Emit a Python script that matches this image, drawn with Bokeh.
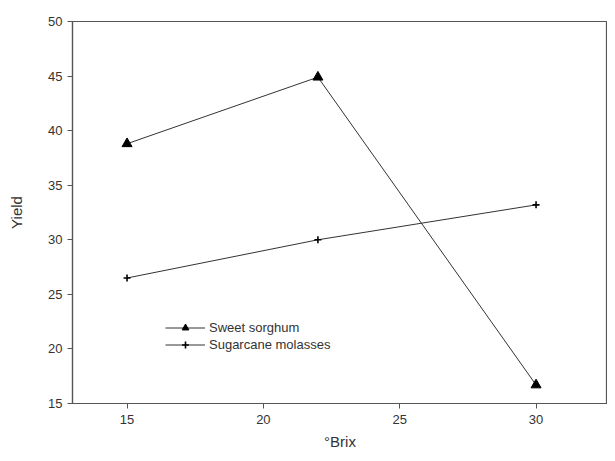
from bokeh.plotting import figure
from bokeh.models import Range1d, FixedTicker
from bokeh.embed import file_html
from bokeh.resources import INLINE

brix = [15, 22, 30]
sweet_sorghum = [38.8, 44.9, 16.7]
sugarcane_molasses = [26.5, 30.0, 33.2]
x_ticks = [15, 20, 25, 30]
y_ticks = [15, 20, 25, 30, 35, 40, 45, 50]

FONT = "Liberation Sans"
AX = "#555555"
TXT = "#333333"

p = figure(width=607, height=453, output_backend="svg", toolbar_location=None,
           x_range=Range1d(13, 32.62), y_range=Range1d(15, 50),
           min_border_left=72, min_border_top=21, min_border_right=0, min_border_bottom=50)
p.grid.visible = False
p.outline_line_color = AX
p.outline_line_width = 1.2
p.background_fill_color = "white"
p.border_fill_color = "white"

for ax in (p.xaxis[0], p.yaxis[0]):
    ax.axis_line_color = AX
    ax.axis_line_width = 1.2
    ax.major_tick_line_color = AX
    ax.major_tick_in = 0
    ax.major_tick_out = 5
    ax.minor_tick_line_color = None
    ax.major_label_text_font = FONT
    ax.major_label_text_font_size = "13px"
    ax.major_label_text_color = TXT
    ax.axis_label_text_font = FONT
    ax.axis_label_text_font_size = "15px"
    ax.axis_label_text_font_style = "normal"
    ax.axis_label_text_color = TXT

p.xaxis.ticker = FixedTicker(ticks=x_ticks)
p.yaxis.ticker = FixedTicker(ticks=y_ticks)
p.xaxis.axis_label = "°Brix"
p.yaxis.axis_label = "Yield"
p.xaxis.major_label_standoff = 6
p.yaxis.major_label_standoff = 5
p.xaxis.axis_label_standoff = 6
p.yaxis.axis_label_standoff = 20

LC = "#333333"
p.line(brix, sweet_sorghum, line_color=LC, line_width=1, legend_label="Sweet sorghum")
p.scatter(brix, sweet_sorghum, marker="triangle", size=10, fill_color="black",
          line_color="black", legend_label="Sweet sorghum")
p.line(brix, sugarcane_molasses, line_color=LC, line_width=1, legend_label="Sugarcane molasses")
p.scatter(brix, sugarcane_molasses, marker="cross", size=7, line_color="black",
          line_width=1.6, legend_label="Sugarcane molasses")

lg = p.legend[0]
lg.location = (93, 50)
lg.border_line_color = None
lg.background_fill_alpha = 0
lg.padding = 0
lg.margin = 0
lg.spacing = 0
lg.label_height = 17
lg.glyph_height = 17
lg.glyph_width = 40
lg.label_standoff = 4
lg.label_text_font = FONT
lg.label_text_font_size = "13px"
lg.label_text_color = TXT

open("out.html", "w").write(file_html(p, INLINE))
